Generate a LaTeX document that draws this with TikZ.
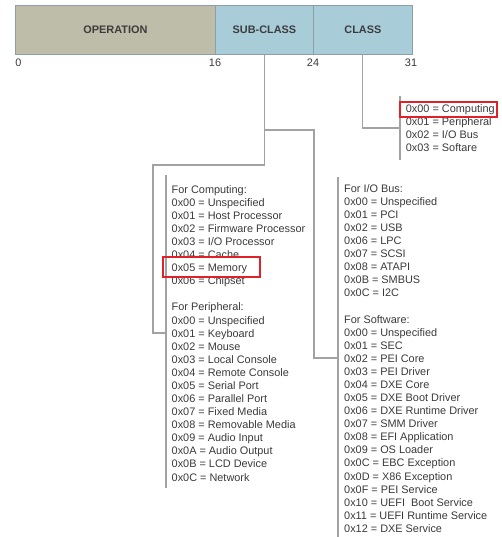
\documentclass[tikz,border=0pt]{standalone}
\usepackage{fontspec}
\setmainfont{Liberation Sans}
\definecolor{opfill}{HTML}{BEBDA9}
\definecolor{clsfill}{HTML}{A9CCD9}
\definecolor{barline}{HTML}{8E9EA4}
\definecolor{headtext}{HTML}{3C3C3C}
\definecolor{bodytext}{HTML}{3A3A3A}
\definecolor{wire}{HTML}{A2A2A2}
\definecolor{mark}{HTML}{E02228}
\begin{document}
\begin{tikzpicture}[x=1pt,y=-1pt,
  cell/.style={draw=barline, line width=0.8pt, minimum height=49pt, inner sep=0pt,
    anchor=north west, font=\fontsize{10.9}{13.09}\selectfont\bfseries, text=headtext},
  bitno/.style={inner sep=0pt, font=\fontsize{10.9}{13.09}\selectfont, text=bodytext},
  codelist/.style={anchor=north west, inner sep=0pt, align=left,
    font=\fontsize{10.9}{13.09}\selectfont, text=bodytext},
  conn/.style={draw=wire, line width=1.1pt},
  hl/.style={draw=mark, line width=1.8pt}]
\useasboundingbox (0,0) rectangle (501,537);

% 32-bit field layout
\node[cell, fill=opfill,  minimum width=200pt] (op)  at (15,5)  {OPERATION};
\node[cell, fill=clsfill, minimum width=98pt]  (sub) at (215,5) {SUB-CLASS};
\node[cell, fill=clsfill, minimum width=99pt]  (cls) at (313,5) {CLASS};

% bit positions
\node[bitno] (n0)  at (18.5,62.5) {0};
\node[bitno] (n16) at (215,62.5)  {16};
\node[bitno] (n24) at (313,62.5)  {24};
\node[bitno] (n31) at (411,62.5)  {31};

% value tables
\node[codelist] (classlist) at (405.7,104.5) {%
0x00 = Computing\\
0x01 = Peripheral\\
0x02 = I/O Bus\\
0x03 = Softare};

\node[codelist] (leftlist) at (171.5,185) {%
For Computing:\\
0x00 = Unspecified\\
0x01 = Host Processor\\
0x02 = Firmware Processor\\
0x03 = I/O Processor\\
0x04 = Cache\\
0x05 = Memory\\
0x06 = Chipset\\[13.09pt]
For Peripheral:\\
0x00 = Unspecified\\
0x01 = Keyboard\\
0x02 = Mouse\\
0x03 = Local Console\\
0x04 = Remote Console\\
0x05 = Serial Port\\
0x06 = Parallel Port\\
0x07 = Fixed Media\\
0x08 = Removable Media\\
0x09 = Audio Input\\
0x0A = Audio Output\\
0x0B = LCD Device\\
0x0C = Network};

\node[codelist] (rightlist) at (344,184) {%
For I/O Bus:\\
0x00 = Unspecified\\
0x01 = PCI\\
0x02 = USB\\
0x06 = LPC\\
0x07 = SCSI\\
0x08 = ATAPI\\
0x0B = SMBUS\\
0x0C = I2C\\[13.09pt]
For Software:\\
0x00 = Unspecified\\
0x01 = SEC\\
0x02 = PEI Core\\
0x03 = PEI Driver\\
0x04 = DXE Core\\
0x05 = DXE Boot Driver\\
0x06 = DXE Runtime Driver\\
0x07 = SMM Driver\\
0x08 = EFI Application\\
0x09 = OS Loader\\
0x0C = EBC Exception\\
0x0D = X86 Exception\\
0x0F = PEI Service\\
0x10 = UEFI\ \ Boot Service\\
0x11 = UEFI Runtime Service\\
0x12 = DXE Service};

% brackets beside the tables
\coordinate (classtop) at (400,96);
\coordinate (classbot) at (400,160);
\coordinate (lefttop)  at (166,175);
\coordinate (leftbot)  at (166,488);
\coordinate (righttop) at (338,177);
\coordinate (rightbot) at (338,537);
\draw[conn] (classtop) -- (classbot);
\draw[conn] (lefttop) -- (leftbot);
\draw[conn] (righttop) -- (rightbot);

% connectors from the fields to their tables
\coordinate (classjoin) at (400,128);
\coordinate (leftjoin)  at (166,333);
\coordinate (rightjoin) at (338,358);
\coordinate (subfork)   at (264,130);
\draw[conn] (cls.south) |- (classjoin);
\draw[conn] (sub.south) |- (153,165) |- (leftjoin);
\draw[conn] (subfork) -| (314,358) -- (rightjoin);

% highlighted entries
\draw[hl] (400,102) rectangle (497,117);
\draw[hl] (163,257) rectangle (260,277);
\end{tikzpicture}
\end{document}
